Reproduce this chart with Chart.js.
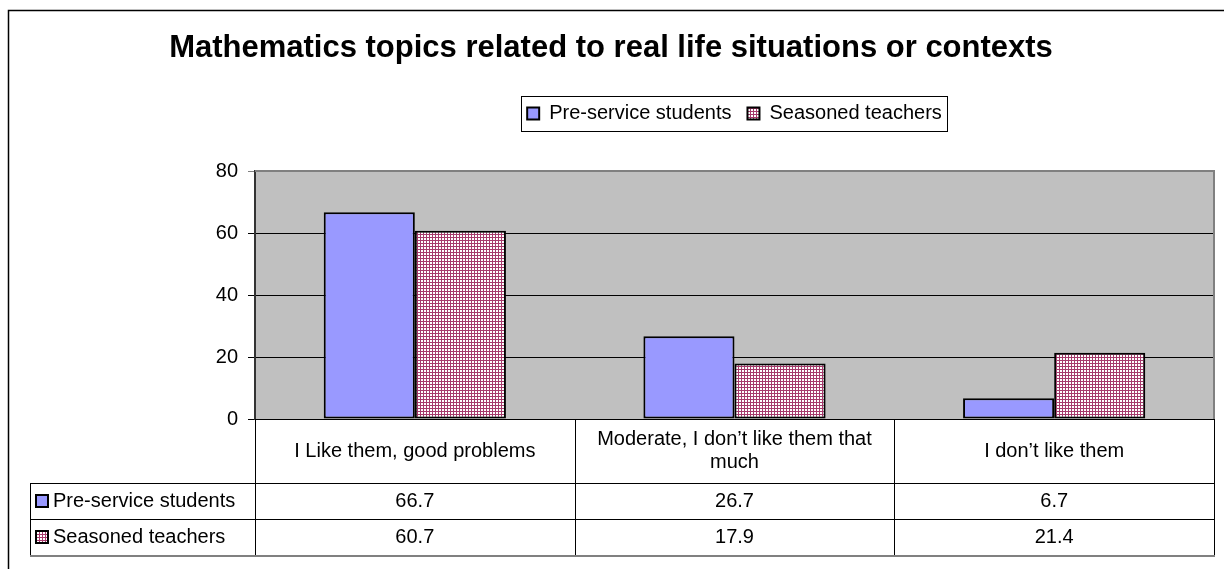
<!DOCTYPE html>
<html>
<head>
<meta charset="utf-8">
<script src="https://cdn.jsdelivr.net/npm/chart.js@4"></script>
<style>
  html, body { margin: 0; padding: 0; background: #fff; }
  #wrap { width: 1224px; height: 569px; }
</style>
</head>
<body>
<div id="wrap"><canvas id="topicsChart" width="1224" height="569"></canvas></div>
<script>
const chartTitle = "Mathematics topics related to real life situations or contexts";
const categories = ["I Like them, good problems", ["Moderate, I don\u2019t like them that", "much"], "I don\u2019t like them"];
const seriesNames = ["Pre-service students", "Seasoned teachers"];
const preService = [66.7, 26.7, 6.7];
const seasoned = [60.7, 17.9, 21.4];
const yMin = 0, yMax = 80, yStep = 20;

Chart.defaults.font.family = "'Liberation Sans', Arial, sans-serif";
Chart.defaults.color = "#000";

// small check pattern for the second series
function makeCheck() {
    const c = document.createElement("canvas");
    c.width = 3; c.height = 3;
    const g = c.getContext("2d");
    g.fillStyle = "#ffffff";
    g.fillRect(0, 0, 3, 3);
    g.fillStyle = "#a63a6c";
    g.fillRect(0, 0, 3, 1);
    g.fillRect(0, 0, 1, 3);
    return g.createPattern(c, "repeat");
}
const checkFill = makeCheck();

const framePlugin = {
    id: "frame",
    beforeDraw(chart) {
        const { ctx, chartArea: a } = chart;
        ctx.save();
        ctx.fillStyle = "#c0c0c0";
        ctx.fillRect(a.left, a.top, a.right - a.left, a.bottom - a.top);
        // outer chart border
        ctx.strokeStyle = "#000";
        ctx.lineWidth = 1.5;
        ctx.beginPath();
        ctx.moveTo(8.5, 569);
        ctx.lineTo(8.5, 10.5);
        ctx.lineTo(1224, 10.5);
        ctx.stroke();
        ctx.restore();
    },
    afterDatasetsDraw(chart) {
        const { ctx, chartArea: a } = chart;
        ctx.save();
        ctx.strokeStyle = "#808080";
        ctx.lineWidth = 2;
        ctx.beginPath();
        ctx.moveTo(a.left, a.top);
        ctx.lineTo(a.right, a.top);
        ctx.lineTo(a.right, a.bottom);
        ctx.stroke();
        // legend box frame
        const boxes = chart.legend.legendHitBoxes;
        if (boxes && boxes.length) {
            const l = boxes[0].left - 6;
            const last = boxes[boxes.length - 1];
            const r = last.left + last.width + 5;
            const cy = boxes[0].top + boxes[0].height / 2;
            ctx.strokeStyle = "#000";
            ctx.lineWidth = 1;
            ctx.strokeRect(Math.round(l) + 0.5, Math.round(cy - 17.5) + 0.5, Math.round(r - l), 35);
        }
        ctx.restore();
    }
};

const tablePlugin = {
    id: "dataTable",
    afterDraw(chart) {
        const { ctx } = chart;
        const x = chart.scales.x;
        const top = chart.chartArea.bottom;
        const headH = 64, rowH = 36;
        const tableLeft = 30;
        const colW = (x.right - x.left) / categories.length;
        const bottom = top + headH + rowH * 2;
        ctx.save();
        ctx.strokeStyle = "#000";
        ctx.lineWidth = 1;
        ctx.beginPath();
        [top + headH, top + headH + rowH].forEach(y => {
            ctx.moveTo(tableLeft, Math.round(y) + 0.5);
            ctx.lineTo(x.right, Math.round(y) + 0.5);
        });
        for (let i = 0; i <= categories.length; i++) {
            const xx = Math.round(x.left + i * colW) + 0.5;
            ctx.moveTo(xx, top);
            ctx.lineTo(xx, bottom);
        }
        ctx.moveTo(tableLeft + 0.5, top + headH);
        ctx.lineTo(tableLeft + 0.5, bottom);
        ctx.stroke();
        ctx.strokeStyle = "#808080";
        ctx.lineWidth = 2;
        ctx.beginPath();
        ctx.moveTo(tableLeft, bottom + 1);
        ctx.lineTo(x.right + 1, bottom + 1);
        ctx.stroke();

        ctx.fillStyle = "#000";
        ctx.font = "20px 'Liberation Sans', Arial, sans-serif";
        ctx.textAlign = "center";
        ctx.textBaseline = "middle";
        categories.forEach((lab, i) => {
            const lines = Array.isArray(lab) ? lab : [lab];
            const cx = x.getPixelForValue(i);
            const cy = top + headH / 2;
            lines.forEach((t, k) => {
                ctx.fillText(t, cx, cy + (k - (lines.length - 1) / 2) * 23);
            });
        });

        chart.data.datasets.forEach((ds, r) => {
            const cy = top + headH + rowH * r + rowH / 2;
            ctx.fillStyle = ds.backgroundColor;
            ctx.fillRect(tableLeft + 6, cy - 6, 12, 12);
            ctx.strokeStyle = "#000";
            ctx.lineWidth = 2;
            ctx.strokeRect(tableLeft + 6, cy - 6, 12, 12);
            ctx.fillStyle = "#000";
            ctx.textAlign = "left";
            ctx.fillText(ds.label, tableLeft + 23, cy);
            ctx.textAlign = "center";
            ds.data.forEach((v, i) => {
                ctx.fillText(v.toFixed(1), x.getPixelForValue(i), cy);
            });
        });
        ctx.restore();
    }
};

new Chart(document.getElementById("topicsChart").getContext("2d"), {
    type: "bar",
    data: {
        labels: categories,
        datasets: [
            {
                label: seriesNames[0],
                data: preService,
                backgroundColor: "#9999ff",
                borderColor: "#000",
                borderWidth: 2,
                borderSkipped: false,
                categoryPercentage: 0.57,
                barPercentage: 1.0
            },
            {
                label: seriesNames[1],
                data: seasoned,
                backgroundColor: checkFill,
                borderColor: "#000",
                borderWidth: 2,
                borderSkipped: false,
                categoryPercentage: 0.57,
                barPercentage: 1.0
            }
        ]
    },
    options: {
        responsive: false,
        animation: false,
        layout: { padding: { top: 10, left: 8, right: 10, bottom: 0 } },
        plugins: {
            title: {
                display: true,
                text: chartTitle,
                font: { size: 31, weight: "bold" },
                color: "#000",
                padding: { top: 19.5, bottom: 20.8 }
            },
            legend: {
                display: true,
                position: "top",
                fullSize: false,
                labels: {
                    boxWidth: 12,
                    boxHeight: 12,
                    padding: 16,
                    font: { size: 20 },
                    color: "#000"
                }
            },
            tooltip: { enabled: false }
        },
        scales: {
            x: {
                position: "bottom",
                ticks: { display: false },
                grid: { display: false },
                border: { display: false },
                afterFit: s => { s.height = 150; }
            },
            xTop: {
                type: "linear",
                axis: "x",
                position: "top",
                ticks: { display: false },
                grid: { display: false },
                border: { display: false },
                afterFit: s => { s.height = 37.5; }
            },
            y: {
                min: yMin,
                max: yMax,
                ticks: { stepSize: yStep, padding: 10, font: { size: 20 }, color: "#000" },
                grid: {
                    color: ctx => (ctx.tick && ctx.tick.value === yMax ? "#808080" : "#000"),
                    lineWidth: 1,
                    tickLength: 7
                },
                border: { display: true, color: "#333", width: 2 },
                afterFit: s => { s.width = 247; }
            }
        }
    },
    plugins: [framePlugin, tablePlugin]
});
</script>
</body>
</html>
